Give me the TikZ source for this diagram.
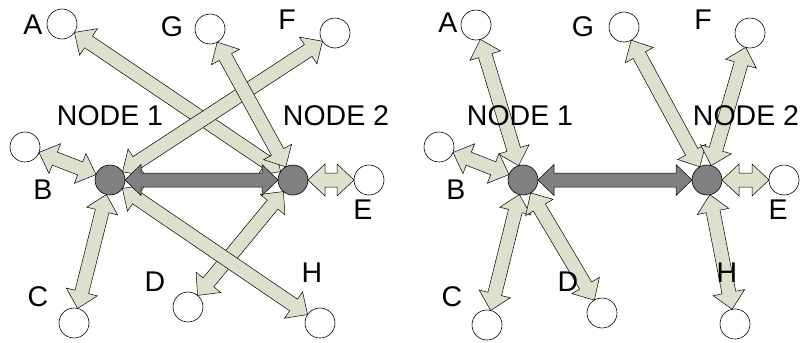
\documentclass[tikz,border=0pt]{standalone}
\usepackage{fontspec}
\setmainfont{Liberation Sans}
\usetikzlibrary{calc}
\definecolor{pale}{HTML}{DDE0CC}
\definecolor{hub}{HTML}{808080}

\tikzset{
  leaf/.style={circle, draw, fill=white, minimum size=30pt, inner sep=0pt, line width=0.6pt},
  hubnode/.style={circle, draw, fill=hub, minimum size=30pt, inner sep=0pt, line width=0.6pt},
  lbl/.style={font=\fontsize{28.5}{30}\selectfont, inner sep=0pt},
  palearrow/.style={draw, fill=pale, line width=0.5pt, line join=miter},
  hubarrow/.style={draw, fill=hub, line width=0.5pt, line join=miter},
}

% Double-headed block arrow between two round nodes of radius 15pt.
% #1 style, #2 from, #3 to, #4 shaft half width, #5 head half width, #6 head length
\newcommand\fatarrow[6]{%
  \coordinate (fa-s) at ($(#2.center)!15pt!(#3.center)$);
  \coordinate (fa-t) at ($(#3.center)!15pt!(#2.center)$);
  \coordinate (fa-s1) at ($(fa-s)!#6!(fa-t)$);
  \coordinate (fa-t1) at ($(fa-t)!#6!(fa-s)$);
  \path[#1] (fa-s) -- ($(fa-s1)!#5!90:(fa-t)$) -- ($(fa-s1)!#4!90:(fa-t)$)
    -- ($(fa-t1)!#4!-90:(fa-s)$) -- ($(fa-t1)!#5!-90:(fa-s)$) -- (fa-t)
    -- ($(fa-t1)!#5!90:(fa-s)$) -- ($(fa-t1)!#4!90:(fa-s)$)
    -- ($(fa-s1)!#4!-90:(fa-t)$) -- ($(fa-s1)!#5!-90:(fa-t)$) -- cycle;
}
\newcommand\link[2]{\fatarrow{palearrow}{#1}{#2}{7pt}{16pt}{17pt}}
\newcommand\trunk[2]{\fatarrow{hubarrow}{#1}{#2}{7pt}{15.5pt}{16pt}}

\begin{document}
\begin{tikzpicture}[x=1pt, y=-1pt]
\useasboundingbox (0,0) rectangle (804,343);

% ---------- left network ----------
\path (62,24) node[leaf] (lA) {}
      (210,29) node[leaf] (lG) {}
      (335,33) node[leaf] (lF) {}
      (25,147) node[leaf] (lB) {}
      (369,180) node[leaf] (lE) {}
      (74,323) node[leaf] (lC) {}
      (188,307) node[leaf] (lD) {}
      (320,323) node[leaf] (lH) {};
\coordinate (l1) at (110,180);
\coordinate (l2) at (293,180);

\link{l2}{lA}
\link{l2}{lD}
\link{l1}{lF}
\link{l1}{lH}
\link{l2}{lG}
\link{l1}{lB}
\link{l1}{lC}
\link{l2}{lE}
\trunk{l1}{l2}

\node[hubnode] (lN1) at (l1) {};
\node[hubnode] (lN2) at (l2) {};

\node[lbl] (tlA) at (33,24.5) {A};
\node[lbl] (tlG) at (172,27) {G};
\node[lbl] (tlF) at (287,20) {F};
\node[lbl] (tlB) at (43,190) {B};
\node[lbl] (tlE) at (363,210) {E};
\node[lbl] (tlC) at (38,297) {C};
\node[lbl] (tlD) at (155,282) {D};
\node[lbl] (tlH) at (312,273) {H};
\node[lbl] (tl1) at (110,116) {NODE 1};
\node[lbl] (tl2) at (336,116) {NODE 2};

% ---------- right network ----------
\path (476,25) node[leaf] (rA) {}
      (624,27) node[leaf] (rG) {}
      (750,33) node[leaf] (rF) {}
      (439,147) node[leaf] (rB) {}
      (784,180) node[leaf] (rE) {}
      (487,325) node[leaf] (rC) {}
      (602,313) node[leaf] (rD) {}
      (735,324) node[leaf] (rH) {};
\coordinate (r1) at (523,180);
\coordinate (r2) at (707,180);

\link{r1}{rA}
\link{r1}{rB}
\link{r1}{rC}
\link{r1}{rD}
\link{r2}{rG}
\link{r2}{rF}
\link{r2}{rE}
\link{r2}{rH}
\trunk{r1}{r2}

\node[hubnode] (rN1) at (r1) {};
\node[hubnode] (rN2) at (r2) {};

\node[lbl] (trA) at (448,23) {A};
\node[lbl] (trG) at (583,27) {G};
\node[lbl] (trF) at (703,20) {F};
\node[lbl] (trB) at (456,190) {B};
\node[lbl] (trE) at (778,210) {E};
\node[lbl] (trC) at (452,297) {C};
\node[lbl] (trD) at (568,282) {D};
\node[lbl] (trH) at (727,273) {H};
\node[lbl] (tr1) at (520,116) {NODE 1};
\node[lbl] (tr2) at (746,116) {NODE 2};
\end{tikzpicture}
\end{document}
